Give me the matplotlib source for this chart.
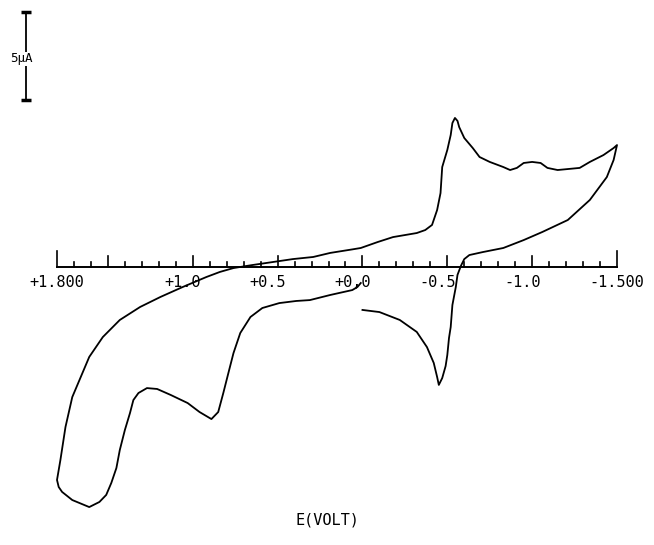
import numpy as np
import matplotlib
matplotlib.use("Agg")
import matplotlib.pyplot as plt

# Voltamograma ciclico (E en V, I en uA, catodica hacia arriba)
# barrido 1: 0.0 V -> -1.5 V
e_barrido1 = [0.00, -0.10, -0.22, -0.32, -0.38, -0.42, -0.44, -0.45, -0.47, -0.49,
              -0.50, -0.51, -0.52, -0.53, -0.55, -0.56, -0.58, -0.60, -0.63, -0.71,
              -0.83, -0.95, -1.06, -1.21, -1.34, -1.44, -1.48, -1.50]
i_barrido1 = [-2.44, -2.56, -3.01, -3.69, -4.55, -5.45, -6.25, -6.70, -6.31, -5.63,
              -5.00, -4.03, -3.41, -2.16, -1.14, -0.45, 0.06, 0.45, 0.68, 0.85,
              1.08, 1.53, 1.99, 2.67, 3.81, 5.11, 6.08, 6.93]

# barrido 2: -1.5 V -> +1.8 V
e_barrido2 = [-1.48, -1.42, -1.34, -1.28, -1.15, -1.09, -1.05, -1.00, -0.95, -0.91,
              -0.87, -0.83, -0.75, -0.69, -0.65, -0.60, -0.57, -0.56, -0.545, -0.53,
              -0.52, -0.50, -0.47, -0.46, -0.44, -0.41, -0.37, -0.32, -0.18, -0.09,
              0.01, 0.06, 0.19, 0.29, 0.41, 0.53, 0.65, 0.76, 0.84, 0.92,
              1.06, 1.19, 1.31, 1.43, 1.53, 1.61, 1.66, 1.71, 1.75, 1.78, 1.80]
i_barrido2 = [6.76, 6.36, 5.97, 5.63, 5.51, 5.63, 5.91, 5.97, 5.91, 5.63,
              5.51, 5.68, 5.97, 6.25, 6.76, 7.33, 7.95, 8.30, 8.47, 8.18,
              7.50, 6.65, 5.68, 4.20, 3.24, 2.39, 2.10, 1.93, 1.70, 1.42,
              1.08, 1.00, 0.80, 0.57, 0.45, 0.28, 0.11, -0.06, -0.28, -0.57,
              -1.14, -1.70, -2.27, -3.01, -3.98, -5.11, -6.25, -7.39, -9.09, -10.97, -12.10]

# barrido 3: +1.8 V -> 0.0 V
e_barrido3 = [1.79, 1.77, 1.71, 1.61, 1.55, 1.51, 1.48, 1.45, 1.43, 1.40,
              1.37, 1.35, 1.32, 1.27, 1.21, 1.13, 1.03, 0.96, 0.89, 0.85,
              0.82, 0.79, 0.76, 0.72, 0.66, 0.59, 0.49, 0.39, 0.31, 0.19,
              0.06, 0.03, 0.01]
i_barrido3 = [-12.50, -12.78, -13.24, -13.64, -13.35, -12.95, -12.27, -11.42, -10.40, -9.26,
              -8.30, -7.56, -7.16, -6.88, -6.93, -7.27, -7.73, -8.24, -8.64, -8.24,
              -7.16, -6.02, -4.89, -3.75, -2.84, -2.33, -2.05, -1.93, -1.88, -1.59,
              -1.31, -1.14, -0.91]

etiquetas_x = ["+1.800", "+1.0", "+0.5", "+0,0", "-0.5", "-1.0", "-1.500"]
posiciones_etiquetas = [1.8, 1.0, 0.5, 0.0, -0.5, -1.0, -1.5]
escala_ua = 5

fuente = "DejaVu Sans Mono"
px_v = 169.7   # pixeles por voltio
px_ua = 17.6   # pixeles por uA

fig = plt.figure(figsize=(6.54, 5.45), dpi=100)
ax = fig.add_axes([0, 0, 1, 1])
ax.set_xlim(1.8 + 57 / px_v, 1.8 - 597 / px_v)
ax.set_ylim(-278 / px_ua, 267 / px_ua)
ax.axis("off")

# curva completa
e_total = np.concatenate([e_barrido1, e_barrido2, e_barrido3])
i_total = np.concatenate([i_barrido1, i_barrido2, i_barrido3])
ax.plot(e_total, i_total, color="black", lw=1.3, solid_joinstyle="round")

# eje de potencial con marcas cada 0.1 V
ax.plot([1.8, -1.5], [0, 0], color="black", lw=1.4)
marcas = np.round(np.arange(-1.5, 1.81, 0.1), 1)
for m in marcas:
    if m in (1.8, -1.5):
        alto = 16 / px_ua
    elif abs(m * 2 - round(m * 2)) < 1e-6:
        alto = 11 / px_ua
    else:
        alto = 5 / px_ua
    ax.plot([m, m], [0, alto], color="black", lw=1.2)

for pos, txt in zip(posiciones_etiquetas, etiquetas_x):
    ax.text(pos + 28 / px_v, -15 / px_ua, txt, ha="left", va="center",
            family=fuente, fontsize=11)

# barra de escala 5 uA
xb = 1.8 + 31 / px_v
yb0 = (267 - 100) / px_ua
ax.plot([xb, xb], [yb0, yb0 + escala_ua], color="black", lw=1.3)
for yy in (yb0, yb0 + escala_ua):
    ax.plot([xb - 0.032, xb + 0.032], [yy, yy], color="black", lw=2.5,
            solid_capstyle="butt")
ax.text(xb + 0.03, yb0 + escala_ua / 2 - 0.15, "5\u03bcA", ha="center", va="center",
        family=fuente, fontsize=9,
        bbox=dict(facecolor="white", edgecolor="none", pad=0.3))

fig.text(327 / 654, 1 - 520 / 545, "E(VOLT)", ha="center", va="center",
         family=fuente, fontsize=11)

fig.savefig("out.png", dpi=100, facecolor="white")
